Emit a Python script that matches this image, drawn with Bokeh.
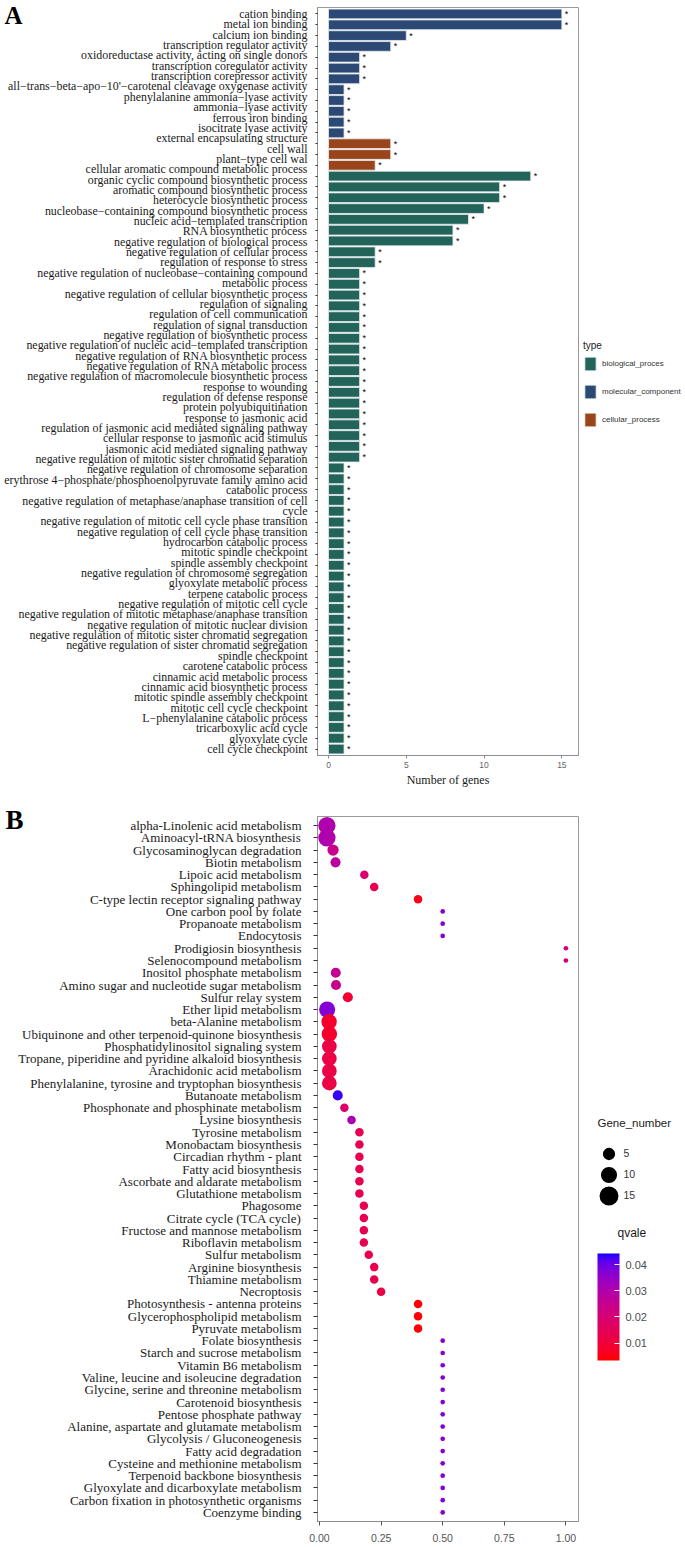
import numpy as np
from bokeh.plotting import figure
from bokeh.models import (ColumnDataSource, FactorRange, Range1d, CategoricalAxis, CategoricalScale,
                          FixedTicker, Legend, LegendItem, LinearColorMapper, ColorBar,
                          NumeralTickFormatter, CustomJSTickFormatter)
from bokeh.layouts import column, row
from bokeh.embed import file_html
from bokeh.resources import INLINE
from bokeh.core.properties import value

# ---------------- Panel A data ----------------
mf_terms = [
    "cation binding", "metal ion binding", "calcium ion binding", "transcription regulator activity",
    "oxidoreductase activity, acting on single donors", "transcription coregulator activity",
    "transcription corepressor activity",
    "all\u2212trans\u2212beta\u2212apo\u221210'\u2212carotenal cleavage oxygenase activity",
    "phenylalanine ammonia\u2212lyase activity", "ammonia\u2212lyase activity", "ferrous iron binding",
    "isocitrate lyase activity",
]
mf_counts = [15, 15, 5, 4, 2, 2, 2, 1, 1, 1, 1, 1]

cc_terms = ["external encapsulating structure", "cell wall", "plant\u2212type cell wal"]
cc_counts = [4, 4, 3]

bp_terms = [
    "cellular aromatic compound metabolic process", "organic cyclic compound biosynthetic process",
    "aromatic compound biosynthetic process", "heterocycle biosynthetic process",
    "nucleobase\u2212containing compound biosynthetic process", "nucleic acid\u2212templated transcription",
    "RNA biosynthetic process", "negative regulation of biological process",
    "negative regulation of cellular process", "regulation of response to stress",
    "negative regulation of nucleobase\u2212containing compound\nmetabolic process",
    "negative regulation of cellular biosynthetic process", "regulation of signaling",
    "regulation of cell communication", "regulation of signal transduction",
    "negative regulation of biosynthetic process",
    "negative regulation of nucleic acid\u2212templated transcription",
    "negative regulation of RNA biosynthetic process", "negative regulation of RNA metabolic process",
    "negative regulation of macromolecule biosynthetic process", "response to wounding",
    "regulation of defense response", "protein polyubiquitination", "response to jasmonic acid",
    "regulation of jasmonic acid mediated signaling pathway",
    "cellular response to jasmonic acid stimulus", "jasmonic acid mediated signaling pathway",
    "negative regulation of mitotic sister chromatid separation",
    "negative regulation of chromosome separation",
    "erythrose 4\u2212phosphate/phosphoenolpyruvate family amino acid\ncatabolic process",
    "negative regulation of metaphase/anaphase transition of cell\ncycle",
    "negative regulation of mitotic cell cycle phase transition",
    "negative regulation of cell cycle phase transition", "hydrocarbon catabolic process",
    "mitotic spindle checkpoint", "spindle assembly checkpoint",
    "negative regulation of chromosome segregation", "glyoxylate metabolic process",
    "terpene catabolic process", "negative regulation of mitotic cell cycle",
    "negative regulation of mitotic metaphase/anaphase transition",
    "negative regulation of mitotic nuclear division",
    "negative regulation of mitotic sister chromatid segregation",
    "negative regulation of sister chromatid segregation", "spindle checkpoint",
    "carotene catabolic process", "cinnamic acid metabolic process",
    "cinnamic acid biosynthetic process", "mitotic spindle assembly checkpoint",
    "mitotic cell cycle checkpoint", "L\u2212phenylalanine catabolic process",
    "tricarboxylic acid cycle", "glyoxylate cycle", "cell cycle checkpoint",
]
bp_counts = [13, 11, 11, 10, 9, 8, 8, 3, 3,
             2, 2, 2, 2, 2, 2, 2, 2, 2, 2, 2, 2, 2, 2, 2, 2, 2, 2,
             1, 1, 1, 1, 1, 1, 1, 1, 1, 1, 1, 1, 1, 1, 1, 1, 1, 1, 1, 1, 1, 1, 1, 1, 1, 1, 1]

type_names = ["biological_proces", "molecular_component", "cellular_process"]
type_colors = ["#22635A", "#2C4875", "#9A441B"]
x_ticks_A = [0, 5, 10, 15]

# ---------------- Panel B data ----------------
kegg_terms = [
    "alpha-Linolenic acid metabolism", "Aminoacyl-tRNA biosynthesis", "Glycosaminoglycan degradation",
    "Biotin metabolism", "Lipoic acid metabolism", "Sphingolipid metabolism",
    "C-type lectin receptor signaling pathway", "One carbon pool by folate", "Propanoate metabolism",
    "Endocytosis", "Prodigiosin biosynthesis", "Selenocompound metabolism",
    "Inositol phosphate metabolism", "Amino sugar and nucleotide sugar metabolism",
    "Sulfur relay system", "Ether lipid metabolism", "beta-Alanine metabolism",
    "Ubiquinone and other terpenoid-quinone biosynthesis", "Phosphatidylinositol signaling system",
    "Tropane, piperidine and pyridine alkaloid biosynthesis", "Arachidonic acid metabolism",
    "Phenylalanine, tyrosine and tryptophan biosynthesis", "Butanoate metabolism",
    "Phosphonate and phosphinate metabolism", "Lysine biosynthesis", "Tyrosine metabolism",
    "Monobactam biosynthesis", "Circadian rhythm - plant", "Fatty acid biosynthesis",
    "Ascorbate and aldarate metabolism", "Glutathione metabolism", "Phagosome",
    "Citrate cycle (TCA cycle)", "Fructose and mannose metabolism", "Riboflavin metabolism",
    "Sulfur metabolism", "Arginine biosynthesis", "Thiamine metabolism", "Necroptosis",
    "Photosynthesis - antenna proteins", "Glycerophospholipid metabolism", "Pyruvate metabolism",
    "Folate biosynthesis", "Starch and sucrose metabolism", "Vitamin B6 metabolism",
    "Valine, leucine and isoleucine degradation", "Glycine, serine and threonine metabolism",
    "Carotenoid biosynthesis", "Pentose phosphate pathway",
    "Alanine, aspartate and glutamate metabolism", "Glycolysis / Gluconeogenesis",
    "Fatty acid degradation", "Cysteine and methionine metabolism",
    "Terpenoid backbone biosynthesis", "Glyoxylate and dicarboxylate metabolism",
    "Carbon fixation in photosynthetic organisms", "Coenzyme binding",
]
rich_factor = [0.030, 0.030, 0.055, 0.065, 0.182, 0.222, 0.400, 0.500, 0.500, 0.500,
               1.000, 1.000, 0.066, 0.067, 0.115, 0.031, 0.039, 0.040, 0.040, 0.040,
               0.040, 0.040, 0.074, 0.101, 0.130, 0.162, 0.162, 0.162, 0.162, 0.162,
               0.162, 0.180, 0.180, 0.180, 0.180, 0.200, 0.222, 0.222, 0.250, 0.400,
               0.400, 0.400, 0.500, 0.500, 0.500, 0.500, 0.500, 0.500, 0.500, 0.500,
               0.500, 0.500, 0.500, 0.500, 0.500, 0.500, 0.500]
gene_number = [12, 12, 4, 3, 2, 2, 2, 1, 1, 1,
               1, 1, 3, 3, 3, 10, 9, 9, 8, 8,
               8, 8, 3, 2, 2, 2, 2, 2, 2, 2,
               2, 2, 2, 2, 2, 2, 2, 2, 2, 2,
               2, 2, 1, 1, 1, 1, 1, 1, 1, 1,
               1, 1, 1, 1, 1, 1, 1]
qvalue = [0.030, 0.030, 0.024, 0.027, 0.019, 0.013, 0.005, 0.037, 0.037, 0.037,
          0.021, 0.021, 0.025, 0.024, 0.009, 0.037, 0.008, 0.008, 0.012, 0.012,
          0.012, 0.012, 0.043, 0.018, 0.031, 0.014, 0.014, 0.014, 0.014, 0.014,
          0.014, 0.014, 0.014, 0.014, 0.014, 0.014, 0.013, 0.013, 0.012, 0.004,
          0.004, 0.004, 0.037, 0.037, 0.037, 0.037, 0.037, 0.037, 0.037, 0.037,
          0.037, 0.037, 0.037, 0.037, 0.037, 0.037, 0.037]
size_legend_values = [5, 10, 15]
q_ticks = [0.01, 0.02, 0.03, 0.04]
q_limits = [0.0034, 0.0442]
x_ticks_B = [0, 0.25, 0.5, 0.75, 1.0]


# ---------------- helpers: scales ----------------
def bubble_px(n):
    # area-style size scale (diameter in px)
    return 4.7 + 3.8 * np.sqrt(np.asarray(n, dtype=float) - 1)


_M = np.array([[0.4124564, 0.3575761, 0.1804375],
               [0.2126729, 0.7151522, 0.0721750],
               [0.0193339, 0.1191920, 0.9503041]])
_W = np.array([0.95047, 1.0, 1.08883])


def _hex_to_lab(h):
    rgb = np.array([int(h[i:i + 2], 16) for i in (1, 3, 5)]) / 255.0
    lin = np.where(rgb <= 0.04045, rgb / 12.92, ((rgb + 0.055) / 1.055) ** 2.4)
    xyz = _M @ lin / _W
    d = 6 / 29
    f = np.where(xyz > d ** 3, np.cbrt(xyz), xyz / (3 * d * d) + 4 / 29)
    return np.array([116 * f[1] - 16, 500 * (f[0] - f[1]), 200 * (f[1] - f[2])])


def _lab_to_hex(lab):
    L, a, b = lab
    fy = (L + 16) / 116
    f = np.array([fy + a / 500, fy, fy - b / 200])
    d = 6 / 29
    xyz = np.where(f > d, f ** 3, 3 * d * d * (f - 4 / 29)) * _W
    lin = np.clip(np.linalg.inv(_M) @ xyz, 0, 1)
    rgb = np.where(lin <= 0.0031308, 12.92 * lin, 1.055 * lin ** (1 / 2.4) - 0.055)
    r, g, bb = np.clip(np.round(rgb * 255), 0, 255).astype(int)
    return "#%02x%02x%02x" % (r, g, bb)


_l0, _l1 = _hex_to_lab("#FF0000"), _hex_to_lab("#0000FF")
q_palette = [_lab_to_hex(_l0 + (_l1 - _l0) * t) for t in np.linspace(0, 1, 256)]

SERIF = "Liberation Serif"
SANS = "Liberation Sans"


def free_text(text, font, size, style, color, x, y):
    # a free-standing text: the title of an empty, invisible colour bar
    return ColorBar(color_mapper=LinearColorMapper(palette=["#ffffff"], low=0, high=1),
                    orientation="horizontal", ticker=FixedTicker(ticks=[]), width=1, height=1,
                    title=text, title_text_font=font, title_text_font_style=style,
                    title_text_font_size=size, title_text_color=color, title_standoff=0,
                    padding=0, margin=0, scale_alpha=0, bar_line_color=None,
                    background_fill_alpha=0, border_line_alpha=0, label_standoff=0,
                    major_tick_line_color=None, minor_tick_line_color=None,
                    major_label_text_font_size="1px", location=(x, y))


def side_figure(height, top, bottom, width):
    f = figure(width=width, height=height, x_range=Range1d(0, 1), y_range=Range1d(0, 1),
               x_axis_type=None, y_axis_type=None, min_border_left=0, min_border_right=0,
               min_border_top=top, min_border_bottom=bottom, output_backend="svg",
               toolbar_location=None)
    f.grid.visible = False
    f.outline_line_color = None
    f.background_fill_color = "white"
    f.border_fill_color = "white"
    return f


W = 684
LEFT, FW = 317, 261
MAIN_W = LEFT + FW + 2
SIDE_W = W - MAIN_W
SX0 = MAIN_W  # page x of the side figures' frame

# ======================= Panel A =======================
terms_A = mf_terms + cc_terms + bp_terms
counts_A = mf_counts + cc_counts + bp_counts
label_lines = []
for t in terms_A:
    label_lines.extend(t.split("\n"))

A_TOP, A_FH, A_BOT = 7, 749, 33
A_H = A_TOP + A_FH + A_BOT
A_FB = A_TOP + A_FH  # frame bottom (page y)
pA = figure(width=MAIN_W, height=A_H,
            y_range=FactorRange(factors=terms_A[::-1], range_padding=0.1, range_padding_units="absolute"),
            x_range=Range1d(-0.707, 16.07),
            min_border_left=LEFT, min_border_right=2, min_border_top=A_TOP,
            min_border_bottom=A_BOT, output_backend="svg", toolbar_location=None)
pA.grid.visible = False
pA.outline_line_color = "#9a9a9a"
pA.background_fill_color = "white"
pA.border_fill_color = "white"

groups = {
    "molecular_component": (mf_terms, mf_counts),
    "cellular_process": (cc_terms, cc_counts),
    "biological_proces": (bp_terms, bp_counts),
}
for name, col in zip(type_names, type_colors):
    terms, counts = groups[name]
    src = ColumnDataSource(dict(term=terms, count=counts))
    pA.hbar(y="term", left=0, right="count", height=0.9, source=src,
            fill_color=col, line_color="#e6ecef", line_width=0.8)

src_star = ColumnDataSource(dict(term=terms_A, count=counts_A))
pA.text(x="count", y="term", text=value("*"), source=src_star, x_offset=3,
        text_font=value(SANS), text_font_size="9px", text_baseline="middle", text_align="left",
        text_color="black")

xa = pA.xaxis[0]
xa.ticker = FixedTicker(ticks=x_ticks_A)
xa.axis_label = "Number of genes"
xa.axis_label_text_font = SERIF
xa.axis_label_text_font_style = "normal"
xa.axis_label_text_font_size = "12px"
xa.axis_label_text_color = "#1a1a1a"
xa.axis_label_standoff = 2
xa.major_label_text_font = SANS
xa.major_label_text_font_size = "8.5px"
xa.major_label_text_color = "#666666"
xa.major_label_standoff = 3
xa.major_tick_out = 3
xa.major_tick_in = 0
xa.minor_tick_line_color = None
xa.axis_line_color = "#8c8c8c"
xa.major_tick_line_color = "#8c8c8c"

ya = pA.yaxis[0]
ya.formatter = CustomJSTickFormatter(code="return ''")
ya.major_label_text_font_size = "1px"
ya.major_label_standoff = 0
ya.major_tick_out = 2
ya.major_tick_in = 0
ya.major_tick_line_color = "#333333"
ya.axis_line_color = "#8c8c8c"

pA.extra_y_ranges = {"lines": FactorRange(factors=label_lines[::-1], range_padding=0.1265,
                                          range_padding_units="absolute")}
pA.extra_y_scales = {"lines": CategoricalScale()}
lab_axis = CategoricalAxis(y_range_name="lines", axis_line_color=None, major_tick_line_color=None,
                           major_tick_in=0, major_tick_out=0, major_label_standoff=8,
                           major_label_text_font=SERIF, major_label_text_font_size="11.9px",
                           major_label_text_color="#1a1a1a")
pA.add_layout(lab_axis, "left")
pA.add_layout(free_text("A", SERIF, "25px", "bold", "black", 4 - LEFT, A_FB - 30.4))

# legend column of panel A
pAL = side_figure(A_H, A_TOP, A_BOT, SIDE_W)
type_keys = []
for name, col in zip(type_names, type_colors):
    r = pAL.rect(x=[-5.0], y=[-5.0], width=1, height=1, fill_color=col, line_color="#e6ecef",
                 line_width=0.8)
    type_keys.append(LegendItem(label=name, renderers=[r]))
legA = Legend(items=type_keys, location=(583 - SX0, A_FB - 429), glyph_width=14, glyph_height=17,
              label_height=17, spacing=11, label_standoff=5, padding=0, margin=0,
              border_line_alpha=0, background_fill_alpha=0, label_text_font=SANS,
              label_text_font_size="8px", label_text_color="#333333", title="type",
              title_text_font=SANS, title_text_font_size="10px", title_text_font_style="normal",
              title_text_color="#1a1a1a", title_standoff=4)
pAL.add_layout(legA)

# ======================= Panel B =======================
B_TOP, B_FH, B_BOT = 27, 705, 25
B_H = B_TOP + B_FH + B_BOT
B_FB = A_H + B_TOP + B_FH  # frame bottom in page coords
pB = figure(width=MAIN_W, height=B_H,
            y_range=FactorRange(factors=kegg_terms[::-1], range_padding=0.24, range_padding_units="absolute"),
            x_range=Range1d(-0.0081, 1.0511),
            min_border_left=LEFT, min_border_right=2, min_border_top=B_TOP, min_border_bottom=B_BOT,
            output_backend="svg", toolbar_location=None)
pB.grid.visible = False
pB.outline_line_color = "#9a9a9a"
pB.background_fill_color = "white"
pB.border_fill_color = "white"

mapper = LinearColorMapper(palette=q_palette, low=q_limits[0], high=q_limits[1])
srcB = ColumnDataSource(dict(term=kegg_terms, rf=rich_factor, n=gene_number, q=qvalue,
                             sz=bubble_px(gene_number)))
pB.scatter(x="rf", y="term", size="sz", source=srcB, marker="circle",
           fill_color={"field": "q", "transform": mapper}, line_color=None)

xb = pB.xaxis[0]
xb.ticker = FixedTicker(ticks=x_ticks_B)
xb.formatter = NumeralTickFormatter(format="0.00")
xb.major_label_text_font = SANS
xb.major_label_text_font_size = "10.5px"
xb.major_label_text_color = "#555555"
xb.major_label_standoff = 8
xb.major_tick_out = 4
xb.major_tick_in = 0
xb.minor_tick_line_color = None
xb.axis_line_color = "#8c8c8c"
xb.major_tick_line_color = "#555555"

yb = pB.yaxis[0]
yb.major_label_text_font = SERIF
yb.major_label_text_font_size = "13px"
yb.major_label_text_color = "#1a1a1a"
yb.major_label_standoff = 12
yb.major_tick_out = 4
yb.major_tick_in = 0
yb.major_tick_line_color = "#333333"
yb.axis_line_color = "#8c8c8c"
pB.add_layout(free_text("B", SERIF, "27px", "bold", "black", 5 - LEFT, B_FB - 835.8))

# legend column of panel B: keys share one marker (0.4 x box); outline width makes each key's size
pL = side_figure(B_H, B_TOP, B_BOT, SIDE_W)
glyph_box = 21
key_d = 0.4 * glyph_box
size_items = []
for v in size_legend_values:
    r = pL.scatter(x=[-5.0], y=[-5.0], marker="circle", size=1, fill_color="black",
                   line_color="black", line_width=max(float(bubble_px(v)) - key_d, 0.01))
    size_items.append(LegendItem(label=str(v), renderers=[r]))
legB = Legend(items=size_items, location=(608 - glyph_box / 2 - SX0, B_FB - (1195 + glyph_box / 2)),
              glyph_width=glyph_box, glyph_height=glyph_box, label_height=10, spacing=0,
              label_standoff=5, padding=0, margin=0, border_line_alpha=0, background_fill_alpha=0,
              label_text_font=SANS, label_text_font_size="10.5px", label_text_color="#333333",
              title="Gene_number", title_text_font=SANS, title_text_font_size="11.5px",
              title_text_font_style="normal", title_text_color="#1a1a1a", title_standoff=14)
pL.add_layout(legB)

cb = ColorBar(color_mapper=mapper, ticker=FixedTicker(ticks=q_ticks),
              formatter=NumeralTickFormatter(format="0.00"), orientation="vertical",
              width=22, height=107, location=(597 - SX0, B_FB - 1360), padding=0, margin=0,
              major_tick_line_color="white", major_tick_in=5, major_tick_out=0,
              minor_tick_line_color=None, bar_line_color=None, label_standoff=6,
              major_label_text_font=SANS, major_label_text_font_size="11px",
              major_label_text_color="#4d4d4d", background_fill_alpha=0, border_line_alpha=0)
pL.add_layout(cb)
pL.add_layout(free_text("qvale", SANS, "12px", "normal", "#1a1a1a", 617 - SX0, B_FB - 1240))

layout = column(row(pA, pAL), row(pB, pL))
open("out.html", "w").write(file_html(layout, INLINE))
